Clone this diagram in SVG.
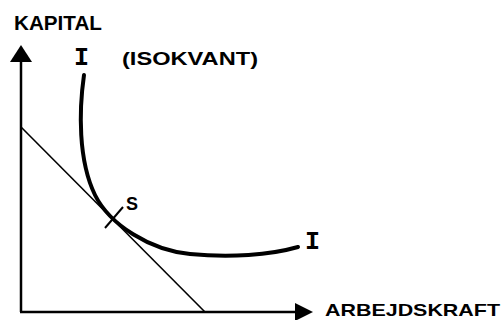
<svg xmlns="http://www.w3.org/2000/svg" width="504" height="320" viewBox="0 0 504 320">
<style>
.lbl{font-family:"Liberation Sans",Arial,sans-serif;font-weight:bold;fill:#000}
.mono{font-family:"Liberation Mono","Courier New",monospace;font-weight:bold;fill:#000}
.ax{stroke:#000;stroke-width:2.5;fill:none}
</style>
<rect width="504" height="320" fill="#fff"/>
<g id="axes">
<line class="ax" x1="21" y1="312" x2="21" y2="58"/>
<polygon points="21,45 10,62 32,62" fill="#000"/>
<line class="ax" x1="20" y1="312" x2="298" y2="312"/>
<polygon points="313,312 295,303 295,321" fill="#000"/>
</g>
<g id="budget-line">
<line x1="21" y1="127" x2="205" y2="312" stroke="#000" stroke-width="1.6"/>
</g>
<g id="isoquant">
<path d="M84,75 C79,110 78,160 95,195 C110,225 150,250 190,254 C230,258 270,255 298,247" fill="none" stroke="#000" stroke-width="4" stroke-linecap="round"/>
</g>
<g id="point-S">
<line x1="105" y1="228" x2="123" y2="207" stroke="#000" stroke-width="2"/>
<text class="lbl" x="126" y="210" font-size="18">S</text>
</g>
<g id="labels">
<text class="lbl" x="14" y="30" font-size="20" textLength="88" lengthAdjust="spacingAndGlyphs">KAPITAL</text>
<text class="mono" x="74" y="65" font-size="25">I</text>
<text class="lbl" x="122" y="65" font-size="19" textLength="136" lengthAdjust="spacingAndGlyphs">(ISOKVANT)</text>
<text class="mono" x="305" y="249" font-size="25">I</text>
<text class="lbl" x="325" y="316" font-size="17" textLength="175" lengthAdjust="spacingAndGlyphs">ARBEJDSKRAFT</text>
</g>
</svg>
